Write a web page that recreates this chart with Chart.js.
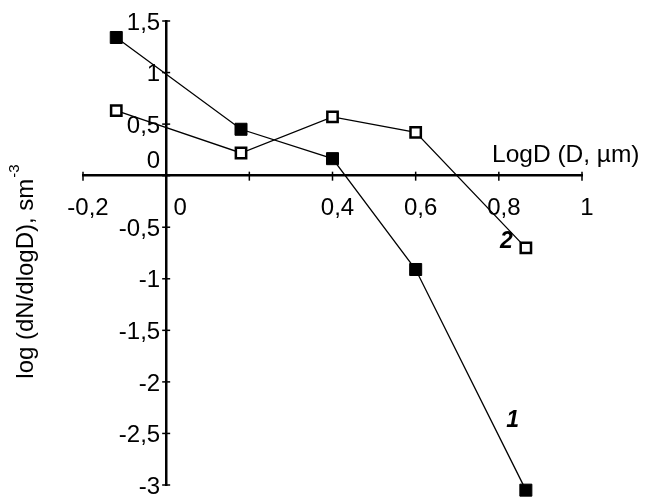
<!DOCTYPE html>
<html>
<head>
<meta charset="utf-8">
<script src="https://cdn.jsdelivr.net/npm/chart.js@4.4.1/dist/chart.umd.min.js"></script>
<style>
  html, body { margin: 0; padding: 0; background: #fff; }
  #wrap { width: 649px; height: 502px; }
</style>
</head>
<body>
<div id="wrap"><canvas id="chart" width="649" height="502"></canvas></div>
<script>
// log D values (same for both curves)
const logD = [-0.12, 0.18, 0.4, 0.6, 0.865];
// curve 1 (filled squares) and curve 2 (open squares)
const curve1 = [1.34, 0.45, 0.165, -0.91, -3.05];
const curve2 = [0.63, 0.22, 0.57, 0.42, -0.70];

const xTickValues = [-0.2, 0, 0.2, 0.4, 0.6, 0.8, 1];
const xTickLabels = ['-0,2', '0', '', '0,4', '0,6', '0,8', '1'];
const yTickValues = [1.5, 1, 0.5, 0, -0.5, -1, -1.5, -2, -2.5, -3];
const yTickLabels = ['1,5', '1', '0,5', '0', '-0,5', '-1', '-1,5', '-2', '-2,5', '-3'];

const FONT = 'Arial, "Liberation Sans", sans-serif';

const toPoints = (ys) => logD.map((x, i) => ({ x, y: ys[i] }));

// draws the axis ticks, tick labels, titles and curve numbers
const axisDecor = {
    id: 'axisDecor',
    afterDraw(chart) {
        const { ctx, scales: { x, y } } = chart;
        const axisY = y.getPixelForValue(0);
        const axisX = x.getPixelForValue(0);
        ctx.save();
        ctx.strokeStyle = '#000';
        ctx.fillStyle = '#000';
        ctx.lineWidth = 1.5;

        // cross ticks
        xTickValues.forEach(v => {
            const px = x.getPixelForValue(v);
            ctx.beginPath();
            ctx.moveTo(px, axisY - 4);
            ctx.lineTo(px, axisY + 5);
            ctx.stroke();
        });
        yTickValues.forEach(v => {
            const py = y.getPixelForValue(v);
            ctx.beginPath();
            ctx.moveTo(axisX - 4, py);
            ctx.lineTo(axisX + 4, py);
            ctx.stroke();
        });

        // tick labels
        ctx.font = '24px ' + FONT;
        ctx.textAlign = 'center';
        ctx.textBaseline = 'top';
        xTickValues.forEach((v, i) => {
            const px = x.getPixelForValue(v) + (v === 0 ? 14 : 5);
            ctx.fillText(xTickLabels[i], px, axisY + 21);
        });
        ctx.textAlign = 'right';
        ctx.textBaseline = 'middle';
        yTickValues.forEach((v, i) => {
            const py = y.getPixelForValue(v) + (v === 0 ? -14 : 2);
            ctx.fillText(yTickLabels[i], axisX - 6, py);
        });

        // x title
        ctx.textAlign = 'left';
        ctx.font = '24.5px ' + FONT;
        ctx.fillText('LogD (D, \u00b5m)', 492, 155);

        // y title (rotated)
        ctx.save();
        ctx.translate(26, 272);
        ctx.rotate(-Math.PI / 2);
        ctx.textAlign = 'left';
        ctx.textBaseline = 'middle';
        ctx.font = '24px ' + FONT;
        const main = 'log (dN/dlogD), sm';
        const w = ctx.measureText(main).width;
        ctx.font = '15px ' + FONT;
        const wSup = ctx.measureText('-3').width;
        const start = -(w + wSup) / 2;
        ctx.font = '24px ' + FONT;
        ctx.fillText(main, start, 0);
        ctx.font = '15px ' + FONT;
        ctx.fillText('-3', start + w + 1, -11);
        ctx.restore();

        // curve numbers
        ctx.font = 'italic bold 23px ' + FONT;
        ctx.textAlign = 'center';
        ctx.textBaseline = 'middle';
        ctx.fillText('2', x.getPixelForValue(0.818), y.getPixelForValue(-0.64));
        ctx.fillText('1', x.getPixelForValue(0.833), y.getPixelForValue(-2.38));
        ctx.restore();
    }
};

new Chart(document.getElementById('chart').getContext('2d'), {
    type: 'line',
    data: {
        datasets: [
            {
                label: '1',
                data: toPoints(curve1),
                borderColor: '#000',
                borderWidth: 1.3,
                backgroundColor: '#000',
                pointStyle: 'rect',
                pointRadius: 8.5,
                pointBorderWidth: 1,
                pointBorderColor: '#000',
                pointBackgroundColor: '#000',
                tension: 0,
                clip: false
            },
            {
                label: '2',
                data: toPoints(curve2),
                borderColor: '#000',
                borderWidth: 1.3,
                backgroundColor: '#fff',
                pointStyle: 'rect',
                pointRadius: 7.3,
                pointBorderWidth: 2.5,
                pointBorderColor: '#000',
                pointBackgroundColor: '#fff',
                tension: 0,
                clip: false
            }
        ]
    },
    options: {
        responsive: false,
        animation: false,
        layout: { padding: { left: 83, top: 21, right: 67, bottom: 17 } },
        plugins: {
            legend: { display: false },
            tooltip: { enabled: false }
        },
        scales: {
            x: {
                type: 'linear',
                min: -0.2,
                max: 1,
                position: { y: 0 },
                ticks: { display: false, stepSize: 0.2 },
                grid: { display: false },
                border: { display: true, color: '#000', width: 2.5 }
            },
            y: {
                type: 'linear',
                min: -3,
                max: 1.5,
                position: { x: 0 },
                ticks: { display: false, stepSize: 0.5 },
                grid: { display: false },
                border: { display: true, color: '#000', width: 2.5 }
            }
        }
    },
    plugins: [axisDecor]
});
</script>
</body>
</html>
